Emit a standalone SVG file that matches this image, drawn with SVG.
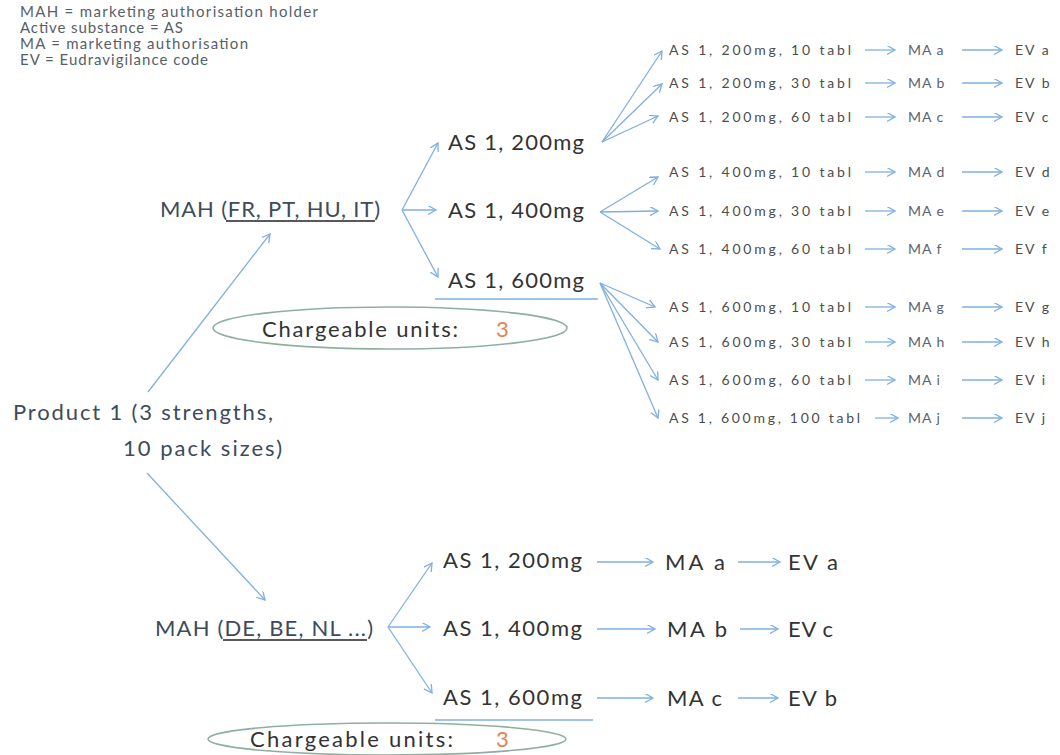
<svg xmlns="http://www.w3.org/2000/svg" width="1060" height="755" viewBox="0 0 1060 755">
<defs>
<marker id="ah" markerUnits="userSpaceOnUse" markerWidth="12" markerHeight="12" refX="8" refY="4.5" orient="auto">
<path d="M0,0 L8,4.5 L0,9" fill="none" stroke="#7fb0e0" stroke-width="1.3"/>
</marker>
</defs>
<style>
text{font-family:Lato,"Liberation Sans",sans-serif;}
.big{font-size:22px;fill:#333;}
.mah{font-size:22px;fill:#3d4b5a;}
.small{font-size:14px;fill:#4d4d4d;}
.ma{font-size:14px;fill:#5a6470;letter-spacing:1px;}
.ev{font-size:14px;fill:#4d4d4d;letter-spacing:2px;}
.legend{font-size:15px;fill:#56606a;}
.three{font-size:22px;fill:#e8804f;}
.conn line,.conn path{stroke:#7fb0e0;stroke-width:1.3;fill:none;marker-end:url(#ah);}
.ul{stroke:#222;stroke-width:1.3;}
.blueul{stroke:#7fb0e0;stroke-width:1.6;}
.oval{fill:none;stroke:#8fb0a0;stroke-width:1.6;}
</style>
<g id="legend">
<text class="legend" x="20" y="17" textLength="298">MAH = marketing authorisation holder</text>
<text class="legend" x="20" y="33" textLength="163">Active substance = AS</text>
<text class="legend" x="20" y="49" textLength="228">MA = marketing authorisation</text>
<text class="legend" x="20" y="65" textLength="188">EV = Eudravigilance code</text>
</g>
<g class="conn" id="connectors">
<line x1="148" y1="392" x2="270" y2="234"/>
<line x1="147" y1="473" x2="265" y2="600"/>
<line x1="402" y1="210" x2="438" y2="143"/>
<line x1="402" y1="210" x2="436" y2="210"/>
<line x1="402" y1="210" x2="438" y2="277"/>
<line x1="388" y1="627" x2="432" y2="563"/>
<line x1="388" y1="627" x2="430" y2="627"/>
<line x1="388" y1="627" x2="432" y2="693"/>
<line x1="602" y1="142" x2="662" y2="51"/>
<line x1="602" y1="142" x2="662" y2="84"/>
<line x1="602" y1="142" x2="658" y2="116"/>
<line x1="600" y1="212" x2="658" y2="177"/>
<line x1="600" y1="212" x2="658" y2="211"/>
<line x1="600" y1="212" x2="660" y2="249"/>
<line x1="600" y1="283" x2="655" y2="307"/>
<line x1="600" y1="283" x2="658" y2="342"/>
<line x1="600" y1="283" x2="658" y2="380"/>
<line x1="600" y1="283" x2="658" y2="418"/>
<line x1="865" y1="50" x2="895" y2="50"/><line x1="962" y1="50" x2="1002" y2="50"/>
<line x1="865" y1="83" x2="895" y2="83"/><line x1="962" y1="83" x2="1002" y2="83"/>
<line x1="865" y1="117" x2="895" y2="117"/><line x1="962" y1="117" x2="1002" y2="117"/>
<line x1="865" y1="172" x2="895" y2="172"/><line x1="962" y1="172" x2="1002" y2="172"/>
<line x1="865" y1="211" x2="895" y2="211"/><line x1="962" y1="211" x2="1002" y2="211"/>
<line x1="865" y1="249" x2="895" y2="249"/><line x1="962" y1="249" x2="1002" y2="249"/>
<line x1="865" y1="307" x2="895" y2="307"/><line x1="962" y1="307" x2="1002" y2="307"/>
<line x1="865" y1="342" x2="895" y2="342"/><line x1="962" y1="342" x2="1002" y2="342"/>
<line x1="865" y1="380" x2="895" y2="380"/><line x1="962" y1="380" x2="1002" y2="380"/>
<line x1="875" y1="418" x2="898" y2="418"/><line x1="962" y1="418" x2="1002" y2="418"/>
<line x1="597" y1="562" x2="653" y2="562"/><line x1="738" y1="562" x2="780" y2="562"/>
<line x1="597" y1="629" x2="655" y2="629"/><line x1="740" y1="629" x2="778" y2="629"/>
<line x1="597" y1="698" x2="653" y2="698"/><line x1="738" y1="698" x2="778" y2="698"/>
</g>
<g id="product">
<text class="mah" x="13" y="420" textLength="260">Product 1 (3 strengths,</text>
<text class="mah" x="123" y="456" textLength="159">10 pack sizes)</text>
</g>
<g id="mah-top">
<text class="mah" x="160" y="217" textLength="220">MAH (FR, PT, HU, IT)</text>
<line class="ul" x1="226" y1="221" x2="375" y2="221"/>
</g>
<g id="mah-bottom">
<text class="mah" x="155" y="636" textLength="218">MAH (DE, BE, NL ...)</text>
<line class="ul" x1="223" y1="640" x2="367" y2="640"/>
</g>
<g id="as-top-200"><text class="big" x="448" y="150" textLength="136">AS 1, 200mg</text></g>
<g id="as-top-400"><text class="big" x="448" y="218" textLength="136">AS 1, 400mg</text></g>
<g id="as-top-600"><text class="big" x="448" y="288" textLength="136">AS 1, 600mg</text>
<line class="blueul" x1="435" y1="299" x2="598" y2="299"/></g>
<g id="units-top">
<ellipse class="oval" cx="390" cy="328" rx="177" ry="21"/>
<text class="big" x="262" y="337" textLength="196">Chargeable units:</text>
<text class="three" x="496" y="337">3</text>
</g>
<g id="row1"><text class="small" x="669" y="55" textLength="182">AS 1, 200mg, 10 tabl</text><text class="ma" x="908" y="55">MA a</text><text class="ev" x="1015" y="55">EV a</text></g>
<g id="row2"><text class="small" x="669" y="88" textLength="182">AS 1, 200mg, 30 tabl</text><text class="ma" x="908" y="88">MA b</text><text class="ev" x="1015" y="88">EV b</text></g>
<g id="row3"><text class="small" x="669" y="122" textLength="182">AS 1, 200mg, 60 tabl</text><text class="ma" x="908" y="122">MA c</text><text class="ev" x="1015" y="122">EV c</text></g>
<g id="row4"><text class="small" x="669" y="177" textLength="182">AS 1, 400mg, 10 tabl</text><text class="ma" x="908" y="177">MA d</text><text class="ev" x="1015" y="177">EV d</text></g>
<g id="row5"><text class="small" x="669" y="216" textLength="182">AS 1, 400mg, 30 tabl</text><text class="ma" x="908" y="216">MA e</text><text class="ev" x="1015" y="216">EV e</text></g>
<g id="row6"><text class="small" x="669" y="254" textLength="182">AS 1, 400mg, 60 tabl</text><text class="ma" x="908" y="254">MA f</text><text class="ev" x="1015" y="254">EV f</text></g>
<g id="row7"><text class="small" x="669" y="312" textLength="182">AS 1, 600mg, 10 tabl</text><text class="ma" x="908" y="312">MA g</text><text class="ev" x="1015" y="312">EV g</text></g>
<g id="row8"><text class="small" x="669" y="347" textLength="182">AS 1, 600mg, 30 tabl</text><text class="ma" x="908" y="347">MA h</text><text class="ev" x="1015" y="347">EV h</text></g>
<g id="row9"><text class="small" x="669" y="385" textLength="182">AS 1, 600mg, 60 tabl</text><text class="ma" x="908" y="385">MA i</text><text class="ev" x="1015" y="385">EV i</text></g>
<g id="row10"><text class="small" x="669" y="423" textLength="191">AS 1, 600mg, 100 tabl</text><text class="ma" x="908" y="423">MA j</text><text class="ev" x="1015" y="423">EV j</text></g>
<g id="as-bot-200"><text class="big" x="443" y="568" textLength="139">AS 1, 200mg</text></g>
<g id="as-bot-400"><text class="big" x="443" y="636" textLength="139">AS 1, 400mg</text></g>
<g id="as-bot-600"><text class="big" x="443" y="705" textLength="139">AS 1, 600mg</text>
<line class="blueul" x1="435" y1="720" x2="593" y2="720"/></g>
<g id="ma-bot-a"><text class="big" x="665" y="570" textLength="60">MA a</text></g>
<g id="ma-bot-b"><text class="big" x="667" y="637" textLength="60">MA b</text></g>
<g id="ma-bot-c"><text class="big" x="667" y="706" textLength="55">MA c</text></g>
<g id="ev-bot-a"><text class="big" x="788" y="570" textLength="50">EV a</text></g>
<g id="ev-bot-c"><text class="big" x="788" y="637" textLength="45">EV c</text></g>
<g id="ev-bot-b"><text class="big" x="788" y="706" textLength="49">EV b</text></g>
<g id="units-bottom">
<ellipse class="oval" cx="387" cy="739" rx="179" ry="16"/>
<text class="big" x="250" y="747" textLength="203">Chargeable units:</text>
<text class="three" x="496" y="747">3</text>
</g>
</svg>
